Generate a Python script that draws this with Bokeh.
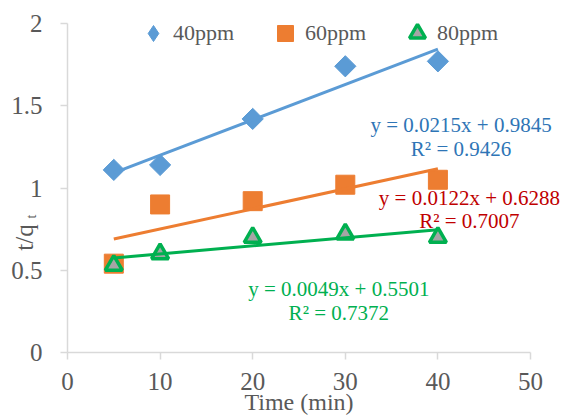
import numpy as np
from bokeh.plotting import figure
from bokeh.models import (Label, Legend, LegendItem, Range1d, FixedTicker,
                          ColumnDataSource, CustomJSTickFormatter)
from bokeh.embed import file_html
from bokeh.resources import INLINE

# ---- data ----
time_min = [5, 10, 20, 30, 40]
ppm40 = [1.11, 1.14, 1.42, 1.74, 1.77]
ppm60 = [0.54, 0.90, 0.92, 1.02, 1.05]
ppm80 = [0.53, 0.60, 0.70, 0.72, 0.70]
series_names = ["40ppm", "60ppm", "80ppm"]
slopes = [0.0215, 0.0122, 0.0049]
intercepts = [0.9845, 0.6288, 0.5501]
r_squared = [0.9426, 0.7007, 0.7372]
x_ticks = [0, 10, 20, 30, 40, 50]
y_ticks = [0, 0.5, 1, 1.5, 2]

FONT = "Liberation Serif"
GREY = "#595959"
AXIS = "#d9d9d9"
colors = ["#5b9bd5", "#ed7d31", "#00b050"]
eq_colors = ["#2e75b6", "#c00000", "#00b050"]

# layout: the frame covers the whole canvas, axes are pinned at x=0 / y=0
W, H = 563, 416
X0_PX, X_SCALE = 67, 9.26      # pixel of x=0, pixels per minute
Y0_PX, Y_SCALE = 352, 164.5    # pixel of y=0, pixels per unit
x_range = Range1d(-X0_PX / X_SCALE, (W - X0_PX) / X_SCALE)
y_range = Range1d(-(H - Y0_PX) / Y_SCALE, Y0_PX / Y_SCALE)

p = figure(width=W, height=H, output_backend="svg", toolbar_location=None,
           x_range=x_range, y_range=y_range,
           min_border=0, min_border_left=0, min_border_right=0,
           min_border_top=0, min_border_bottom=0)
p.background_fill_color = "white"
p.border_fill_color = "white"
p.outline_line_color = None
p.xgrid.visible = False
p.ygrid.visible = False

p.xaxis.ticker = FixedTicker(ticks=x_ticks)
p.yaxis.ticker = FixedTicker(ticks=y_ticks)
p.yaxis.formatter = CustomJSTickFormatter(code="return String(tick)")
p.xaxis.fixed_location = 0
p.yaxis.fixed_location = 0
p.xaxis.bounds = (x_ticks[0], x_ticks[-1])
p.yaxis.bounds = (y_ticks[0], y_ticks[-1])
for ax in (p.xaxis[0], p.yaxis[0]):
    ax.axis_line_color = AXIS
    ax.axis_line_width = 1.5
    ax.major_tick_line_color = AXIS
    ax.major_tick_line_width = 1.5
    ax.major_tick_out = 7
    ax.major_tick_in = 0
    ax.minor_tick_line_color = None
    ax.major_label_text_font = FONT
    ax.major_label_text_font_size = "25px"
    ax.major_label_text_color = GREY
p.yaxis.major_label_standoff = 18
p.xaxis.major_label_standoff = 13

src = ColumnDataSource(dict(t=time_min, a=ppm40, b=ppm60, c=ppm80))
# diamond-shaped legend key for the 40ppm series, fully covered by the
# rotated squares drawn on top of it (legend keys ignore marker angle)
key40 = p.scatter("t", "a", source=src, marker="diamond", size=12,
                  fill_color=colors[0], line_color=colors[0])
r40 = p.scatter("t", "a", source=src, marker="square", angle=np.pi / 4, size=15,
                fill_color=colors[0], line_color=colors[0])
r60 = p.scatter("t", "b", source=src, marker="square", size=19,
                fill_color=colors[1], line_color=colors[1])
r80 = p.scatter("t", "c", source=src, marker="triangle", size=17,
                fill_color="#a5a5a5", line_color=colors[2], line_width=3.5)

# linear trendlines from the stated equations
xfit = np.array([min(time_min), max(time_min)], dtype=float)
for k in range(3):
    p.line(xfit, slopes[k] * xfit + intercepts[k], line_color=colors[k],
           line_width=3)

# one legend per entry so that each entry sits where the original has it
legend_renderers = [key40, r60, r80]
legend_x = [133, 265, 397]
for k in range(3):
    lg = Legend(items=[LegendItem(label=series_names[k], renderers=[legend_renderers[k]])],
                orientation="horizontal", location=(legend_x[k], 363),
                glyph_width=40, glyph_height=40, label_standoff=0,
                padding=0, margin=0, border_line_color=None,
                background_fill_alpha=0, label_text_font=FONT,
                label_text_font_size="22px", label_text_color=GREY)
    p.add_layout(lg)

# trendline equation labels
eq_pos = [(42.5, 1.38, 1.24), (43.4, 0.942, 0.80), (29.3, 0.389, 0.243)]
for k in range(3):
    x0, y_eq, y_r2 = eq_pos[k]
    p.add_layout(Label(x=x0, y=y_eq, text=f"y = {slopes[k]:.4f}x + {intercepts[k]:.4f}",
                       text_font=FONT, text_font_size="21px", text_color=eq_colors[k],
                       text_align="center", text_baseline="middle"))
    p.add_layout(Label(x=x0, y=y_r2, text=f"R² = {r_squared[k]:.4f}",
                       text_font=FONT, text_font_size="21px", text_color=eq_colors[k],
                       text_align="center", text_baseline="middle"))

# axis titles
p.add_layout(Label(x=25, y=-0.300, text="Time (min)", text_font=FONT,
                   text_font_size="24px", text_color=GREY,
                   text_align="center", text_baseline="middle"))
p.add_layout(Label(x=-4.66, y=0.699, text="t/q", angle=np.pi / 2, text_font=FONT,
                   text_font_size="25px", text_color=GREY,
                   text_align="center", text_baseline="middle"))
p.add_layout(Label(x=-3.9, y=0.827, text="t", angle=np.pi / 2, text_font=FONT,
                   text_font_size="14px", text_color=GREY,
                   text_align="center", text_baseline="middle"))

open("out.html", "w").write(file_html(p, INLINE))
